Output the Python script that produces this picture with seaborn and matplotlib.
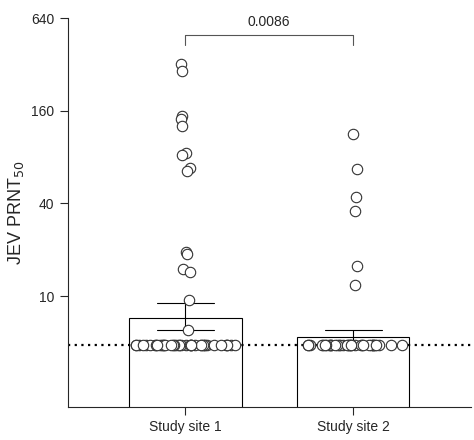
import numpy as np
import pandas as pd
import matplotlib
matplotlib.use("Agg")
import matplotlib.pyplot as plt
import seaborn as sns

sns.set_theme(style="ticks")
plt.rcParams["font.family"] = ["Liberation Sans", "DejaVu Sans"]

# ------------------------------------------------------------------
# DATA
# ------------------------------------------------------------------
sites = ["Study site 1", "Study site 2"]
site1_high = [320, 290, 148, 142, 128, 85, 83, 68, 65, 19.3, 18.7, 15, 14.3, 9.4, 6]
site2_high = [113, 67, 44, 35.5, 15.6, 11.8]
n_baseline = [40, 36]
baseline = 4.8
bar_means = [7.2, 5.4]
err_low = [6.0, 5.1]
err_high = [9.0, 6.0]
p_value = "0.0086"

rows = [(sites[0], v) for v in site1_high] + [(sites[1], v) for v in site2_high]
for s, n in zip(sites, n_baseline):
    rows += [(s, baseline)] * n
df = pd.DataFrame(rows, columns=["site", "titer"])

# ------------------------------------------------------------------
# PLOT
# ------------------------------------------------------------------
fig = plt.figure(figsize=(4.74, 4.40), dpi=100)
ax = fig.add_axes([0.143, 0.075, 0.85, 0.884])

ax.bar(sites, bar_means, width=0.67, color="white", edgecolor="black", linewidth=0.8, zorder=1)
for i in range(2):
    ax.plot([i, i], [err_low[i], err_high[i]], color="black", lw=0.8, zorder=1)
    for v in (err_low[i], err_high[i]):
        ax.plot([i - 0.17, i + 0.17], [v, v], color="black", lw=0.8, zorder=1)

np.random.seed(3)
high = df[df["titer"] > baseline]
low = df[df["titer"] == baseline]
sns.stripplot(data=low, x="site", y="titer", order=sites, jitter=0.31, size=7.5,
              color="white", edgecolor="#333333", linewidth=0.8, ax=ax, zorder=3)
sns.stripplot(data=high, x="site", y="titer", order=sites, jitter=0.03, size=7.5,
              color="white", edgecolor="#333333", linewidth=0.8, ax=ax, zorder=3)

ax.axhline(baseline, color="black", ls=(0, (1, 2)), lw=1.6, zorder=2)

ax.set_yscale("log", base=2)
ax.set_ylim(1.9, 640)
ax.set_xlim(-0.7, 1.7)
ax.set_yticks([10, 40, 160, 640])
ax.set_yticklabels(["10", "40", "160", "640"])
ax.minorticks_off()
ax.set_xlabel("")
ax.set_ylabel("JEV PRNT$_{50}$", fontsize=13)
ax.tick_params(labelsize=10, width=0.8)
for sp in ax.spines.values():
    sp.set_linewidth(0.8)
sns.despine(ax=ax)

# significance bracket
ax.plot([0, 0, 1, 1], [430, 500, 500, 430], color="#555555", lw=0.8, clip_on=False)
ax.text(0.5, 545, p_value, ha="center", va="bottom", fontsize=10)

fig.savefig("out.png", dpi=100)
